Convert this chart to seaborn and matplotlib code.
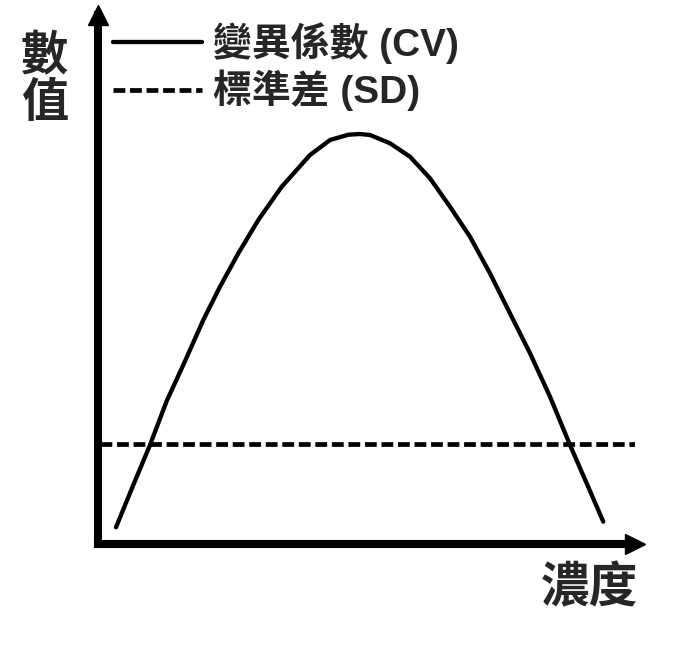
import numpy as np
import pandas as pd
import matplotlib
matplotlib.use("Agg")
import matplotlib.pyplot as plt
import seaborn as sns

# values (arbitrary units, 0-100 on both axes)
conc = [3.44, 6.66, 9.77, 12.87, 15.96, 19.68, 22.79, 26.20, 29.92, 34.27,
        39.53, 43.26, 46.66, 48.84, 50.70, 54.42, 58.14, 61.86, 65.58, 69.30,
        73.02, 76.74, 80.47, 84.19, 87.91, 91.01, 94.10]
cv = [3.16, 11.15, 18.71, 27.03, 33.84, 42.34, 48.64, 54.95, 61.25, 67.54,
      73.53, 76.37, 77.37, 77.50, 77.32, 75.75, 73.21, 69.13, 63.76, 58.09,
      51.17, 43.61, 36.05, 27.84, 18.71, 11.47, 4.22]
sd_conc = [0.5, 100.1]
sd = [18.9, 18.9]

cv_label = "變異係數 (CV)"
sd_label = "標準差 (SD)"
x_label = "濃度"
y_label = "數\n值"

sns.set_style("white")
plt.rcParams["font.family"] = ["Liberation Sans", "Noto Sans CJK TC", "DejaVu Sans"]
plt.rcParams["font.weight"] = "bold"

W, H = 673, 647
fig = plt.figure(figsize=(W / 100, H / 100), dpi=100)
left, right, bottom, top = 97.5, 635, 544, 15
ax = fig.add_axes([left / W, (H - bottom) / H, (right - left) / W, (bottom - top) / H])

sns.lineplot(x=conc, y=cv, ax=ax, color="black", linewidth=3.1, label=cv_label)
sns.lineplot(x=sd_conc, y=sd, ax=ax, color="black", linewidth=3.4,
             linestyle=(0, (2.5, 1.0)), label=sd_label)

ax.set_xlim(0, 100)
ax.set_ylim(0, 100)
ax.set_xticks([])
ax.set_yticks([])
for s in ["top", "right"]:
    ax.spines[s].set_visible(False)
for s in ["left", "bottom"]:
    ax.spines[s].set_linewidth(5.8)
    ax.spines[s].set_color("black")

# arrow heads at the axis ends
ax.plot(0, 1, marker="^", color="black", markersize=15, transform=ax.transAxes, clip_on=False)
ax.plot(1, 0, marker=">", color="black", markersize=15, transform=ax.transAxes, clip_on=False)

ax.set_ylabel(y_label, rotation=0, fontsize=34, fontweight="bold", linespacing=1.1,
              ha="center", va="center")
ax.yaxis.set_label_coords(-0.098, 0.875)
ax.set_xlabel(x_label, fontsize=35, fontweight="bold", ha="center", va="center")
ax.xaxis.set_label_coords(0.916, -0.085)

ax.legend(loc="upper left", bbox_to_anchor=(113 / W, 1 - 22 / H),
          bbox_transform=fig.transFigure, frameon=False,
          handlelength=2.3, handletextpad=0.28, labelspacing=0.15,
          borderpad=0, borderaxespad=0, prop={"weight": "bold", "size": 28})

fig.savefig("out.png", dpi=100, facecolor="white")
